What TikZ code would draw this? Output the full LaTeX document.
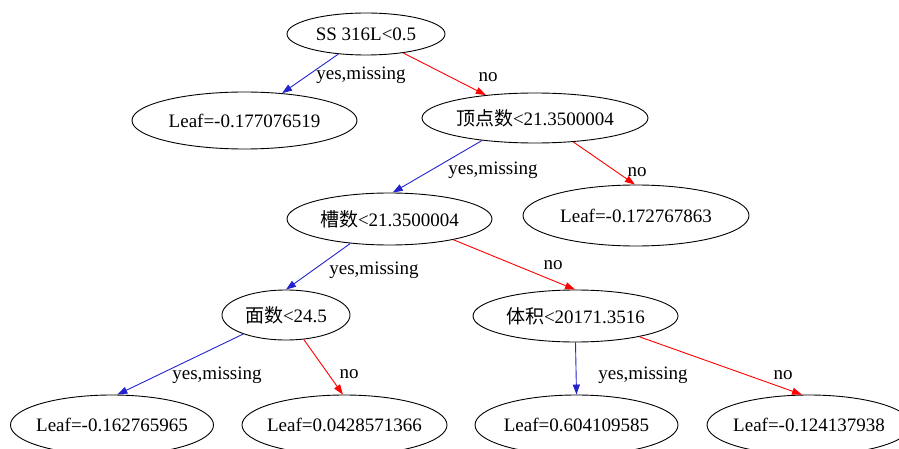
\documentclass[tikz,border=0pt]{standalone}
\usepackage{fontspec}
\setmainfont{Liberation Serif}
\newfontfamily\cjk{Noto Sans CJK SC}
\usetikzlibrary{arrows.meta,shapes.geometric}
\definecolor{yesblue}{RGB}{35,35,205}
\definecolor{nored}{RGB}{255,0,0}
\begin{document}
\begin{tikzpicture}[x=1pt,y=-1pt,
  treenode/.style={ellipse,draw,line width=0.9pt,inner sep=0pt,
    font=\fontsize{19}{22}\selectfont},
  yesedge/.style={draw=yesblue,line width=0.9pt,-{Triangle[length=10pt,width=7pt]}},
  noedge/.style={draw=nored,line width=0.9pt,-{Triangle[length=10pt,width=7pt]}},
  lbl/.style={font=\fontsize{19}{22}\selectfont,inner sep=0pt}]
\useasboundingbox (0,0) rectangle (899,449);

% split nodes
\node[treenode,minimum width=158pt,minimum height=42pt] (root) at (366,34) {SS 316L<0.5};
\node[treenode,minimum width=226pt,minimum height=50pt] (vert) at (535,118) {{\cjk 顶点数}<21.3500004};
\node[treenode,minimum width=205pt,minimum height=52pt] (slot) at (389.5,219) {{\cjk 槽数}<21.3500004};
\node[treenode,minimum width=128pt,minimum height=50pt] (face) at (286,315) {{\cjk 面数}<24.5};
\node[treenode,minimum width=205pt,minimum height=52pt] (vol) at (575.5,316) {{\cjk 体积}<20171.3516};

% leaves (negative inner xsep keeps the bottom row narrow)
\node[treenode,minimum width=225pt,minimum height=57pt] (leafA) at (244.5,120.5) {Leaf=-0.177076519};
\node[treenode,minimum width=226pt,minimum height=61pt] (leafB) at (636,215.5) {Leaf=-0.172767863};
\node[treenode,inner xsep=-4pt,minimum width=203pt,minimum height=60pt] (leafC) at (112,425) {Leaf=-0.162765965};
\node[treenode,inner xsep=-4.9pt,minimum width=205pt,minimum height=60pt] (leafD) at (344.5,425) {Leaf=0.0428571366};
\node[treenode,inner xsep=-1.2pt,minimum width=203pt,minimum height=60pt] (leafE) at (576.5,425) {Leaf=0.604109585};
\node[treenode,inner xsep=-3.7pt,minimum width=204pt,minimum height=60pt] (leafF) at (809,425) {Leaf=-0.124137938};

% edges
\draw[yesedge] (root.-144) -- (leafA.36.5);
\draw[noedge]  (root.-27) -- (vert.155);
\draw[yesedge] (vert.-157) -- (slot.83);
\draw[noedge]  (vert.-32) -- (leafB.92);
\draw[yesedge] (slot.-148.5) -- (face.90);
\draw[noedge]  (slot.-18.3) -- (vol.91);
\draw[yesedge] (face.-156) -- (leafC.80.5);
\draw[noedge]  (face.-54) -- (leafD.93);
\draw[yesedge] (vol.-90) -- (leafE.90);
\draw[noedge]  (vol.-18.6) -- (leafF.103);

% edge labels
\node[lbl] (l1) at (361,75) {yes,missing};
\node[lbl] (l2) at (488,77) {no};
\node[lbl] (l3) at (493,170) {yes,missing};
\node[lbl] (l4) at (637,172) {no};
\node[lbl] (l5) at (374,270) {yes,missing};
\node[lbl] (l6) at (553,265) {no};
\node[lbl] (l7) at (217,375) {yes,missing};
\node[lbl] (l8) at (349,374) {no};
\node[lbl] (l9) at (643,375) {yes,missing};
\node[lbl] (l10) at (783,375) {no};
\end{tikzpicture}
\end{document}
